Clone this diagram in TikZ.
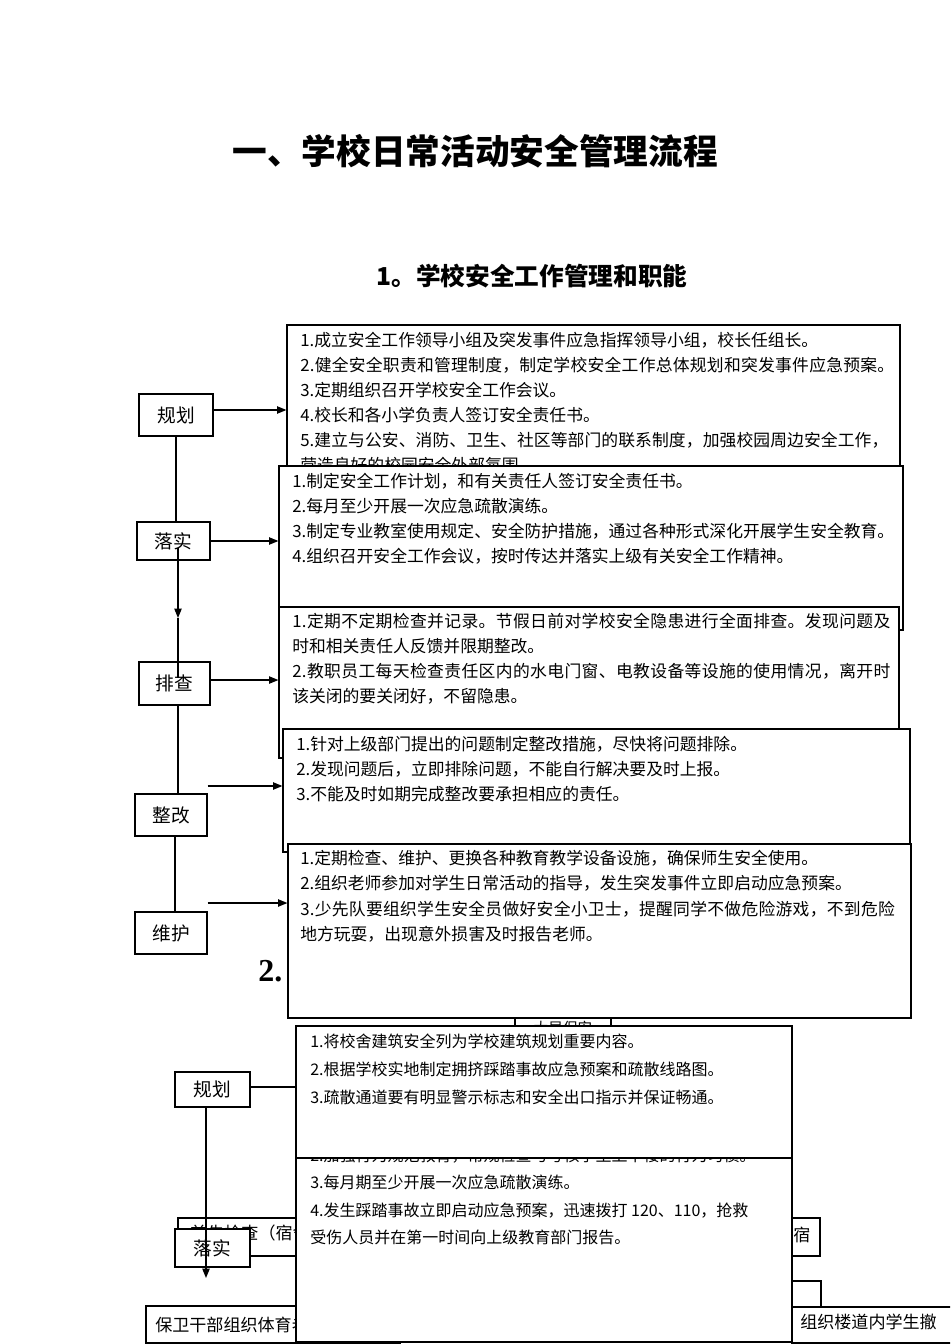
\documentclass[tikz,border=0pt]{standalone}
\usepackage{fontspec}
\setmainfont{Noto Sans CJK SC}
\newfontfamily\numserif{Liberation Serif}
\usetikzlibrary{fit,arrows.meta}
\newcommand\boxlines[6]{%
  \foreach \ltext [count=\i] in {#6} {%
    \node[#5] (#1\i) at ({#2},{#3+(\i-1)*#4}) {\ltext};}}
\begin{document}
\begin{tikzpicture}[x=0.75pt,y=-0.75pt,
  tbox/.style={draw=black, fill=white, line width=0.9pt, inner sep=0pt},
  lbox/.style={draw=black, fill=white, line width=0.9pt, inner sep=0pt, font=\fontsize{14}{16}\selectfont},
  tx/.style={inner sep=0pt, anchor=base west, font=\fontsize{12.6}{15}\selectfont},
  txs/.style={inner sep=0pt, anchor=base west, font=\fontsize{12}{15}\selectfont},
  conn/.style={line width=0.9pt},
  arr/.style={line width=0.9pt, -{Triangle[length=7pt,width=5.5pt]}}
]
\useasboundingbox (0,0) rectangle (950,1344);
\clip (0,0) rectangle (950,1344);

% titles
\node[font=\fontsize{26}{30}\selectfont\bfseries] (title) at (475,151) {一、学校日常活动安全管理流程};
\node[font=\fontsize{18.5}{22}\selectfont\bfseries] (sub) at (532,276) {1。学校安全工作管理和职能};

% section 1 text boxes
\node[tbox, fit={(287,325) (900,475)}] (A) {};
\boxlines{At}{300}{346}{25}{tx}{1.成立安全工作领导小组及突发事件应急指挥领导小组，校长任组长。,
{\addfontfeature{LetterSpace=1.5}2.健全安全职责和管理制度，制定学校安全工作总体规划和突发事件应急预案。},
3.定期组织召开学校安全工作会议。,
4.校长和各小学负责人签订安全责任书。,
{\addfontfeature{LetterSpace=0.5}5.建立与公安、消防、卫生、社区等部门的联系制度，加强校园周边安全工作，},
营造良好的校园安全外部氛围。}

\node[tbox, fit={(279,466) (903,630)}] (B) {};
\boxlines{Bt}{292}{487}{25.3}{tx}{1.制定安全工作计划，和有关责任人签订安全责任书。,
2.每月至少开展一次应急疏散演练。,
3.制定专业教室使用规定、安全防护措施，通过各种形式深化开展学生安全教育。,
4.组织召开安全工作会议，按时传达并落实上级有关安全工作精神。}

\node[tbox, fit={(279,607) (899,758)}] (C) {};
\boxlines{Ct}{292}{627}{25.3}{tx}{{\addfontfeature{LetterSpace=2.2}1.定期不定期检查并记录。节假日前对学校安全隐患进行全面排查。发现问题及},
时和相关责任人反馈并限期整改。,
{\addfontfeature{LetterSpace=2.2}2.教职员工每天检查责任区内的水电门窗、电教设备等设施的使用情况，离开时},
该关闭的要关闭好，不留隐患。}

\node[tbox, fit={(283,729) (910,852)}] (D) {};
\boxlines{Dt}{296}{750}{25}{tx}{1.针对上级部门提出的问题制定整改措施，尽快将问题排除。,
2.发现问题后，立即排除问题，不能自行解决要及时上报。,
3.不能及时如期完成整改要承担相应的责任。}

% section 2 heading (mostly hidden) and hidden box
\node[anchor=base west, inner sep=0pt, font=\fontsize{24}{28}\selectfont\numserif\bfseries] (h2) at (258,981) {2.};
\node[tbox, fit={(515,1018) (611,1060)}] (Hid) {};
\node[font=\fontsize{11}{13}\selectfont, inner sep=0pt] (Hidt) at (563,1028) {大局保安};

\node[tbox, fit={(288,844) (911,1018)}] (E) {};
\boxlines{Et}{300}{864}{25.5}{tx}{1.定期检查、维护、更换各种教育教学设备设施，确保师生安全使用。,
2.组织老师参加对学生日常活动的指导，发生突发事件立即启动应急预案。,
{\addfontfeature{LetterSpace=1.6}3.少先队要组织学生安全员做好安全小卫士，提醒同学不做危险游戏，不到危险},
地方玩耍，出现意外损害及时报告老师。}

% section 1 labels
\node[lbox, minimum width=55.5pt, minimum height=31.5pt] (L1) at (176,415) {规划};
\node[lbox, minimum width=54.75pt, minimum height=28.5pt] (L2) at (173.5,541) {落实};
\node[lbox, minimum width=53.25pt, minimum height=32.25pt] (L3) at (174.5,683.5) {排查};
\node[lbox, minimum width=54pt, minimum height=31.5pt] (L4) at (171,815) {整改};
\node[lbox, minimum width=54pt, minimum height=31.5pt] (L5) at (171,933) {维护};

\draw[arr] ([yshift=3.75pt]L1.east) -- ([yshift=3.75pt]L1.east -| A.west);
\draw[arr] (L2.east) -- (L2.east -| B.west);
\draw[arr] ([yshift=2.6pt]L3.east) -- ([yshift=2.6pt]L3.east -| C.west);
\draw[arr] ([yshift=21.75pt]L4.east) -- ([yshift=21.75pt]L4.east -| D.west);
\draw[arr] ([yshift=22.5pt]L5.east) -- ([yshift=22.5pt]L5.east -| E.west);

\coordinate (p1) at (178,548);
\coordinate (p2) at (178,618);
\coordinate (p3) at (178,678);
\coordinate (q) at (175,0);
\draw[conn] (L1.south) -- (L1.south |- L2.north);
\draw[arr] (p1) -- (p2);
\draw[conn] (p2) -- (p3);
\draw[conn] (L3.south -| p3) -- (L4.north -| p3);
\draw[conn] (L4.south -| q) -- (L5.north -| q);

% section 2 boxes underneath
\node[tbox, fit={(178,1218) (820,1256)}] (H) {};
\node[inner sep=0pt, anchor=base west, font=\fontsize{12.8}{15}\selectfont] (Ht1) at (190,1239) {首先检查（宿舍};
\node[inner sep=0pt, anchor=base west, font=\fontsize{12.8}{15}\selectfont] (Ht2) at (793,1241) {宿};
\node[tbox, fit={(700,1281) (821,1307)}] (I) {};
\node[tbox, fit={(792,1307) (960,1343)}] (J) {};
\node[inner sep=0pt, anchor=base west, font=\fontsize{12.8}{15}\selectfont] (Jt) at (800,1328) {组织楼道内学生撤};
\node[tbox, fit={(146,1306) (400,1343)}] (K) {};
\node[inner sep=0pt, anchor=base west, font=\fontsize{12.8}{15}\selectfont] (Kt) at (155,1331) {保卫干部组织体育老师};

\node[tbox, fit={(296,1110) (792,1342)}] (G) {};
\boxlines{Gt}{310}{1161}{27.5}{txs}{2.加强行为规范教育，常规检查与考核学生上下楼的行为习惯。,
3.每月期至少开展一次应急疏散演练。,
4.发生踩踏事故立即启动应急预案，迅速拨打 120、110，抢救,
受伤人员并在第一时间向上级教育部门报告。}

\node[tbox, fit={(296,1026) (792,1158)}] (F) {};
\boxlines{Ft}{310}{1047}{28}{txs}{1.将校舍建筑安全列为学校建筑规划重要内容。,
2.根据学校实地制定拥挤踩踏事故应急预案和疏散线路图。,
3.疏散通道要有明显警示标志和安全出口指示并保证畅通。}

% section 2 labels
\node[lbox, minimum width=56.25pt, minimum height=26.25pt] (M1) at (212.5,1089.5) {规划};
\node[lbox, minimum width=56.25pt, minimum height=28.5pt] (M2) at (212.5,1248) {落实};
\coordinate (r) at (206,1278);
\draw[conn] ([yshift=1.9pt]M1.east) -- ([yshift=1.9pt]M1.east -| F.west);
\draw[arr] (M1.south -| r) -- (r);
\end{tikzpicture}
\end{document}
